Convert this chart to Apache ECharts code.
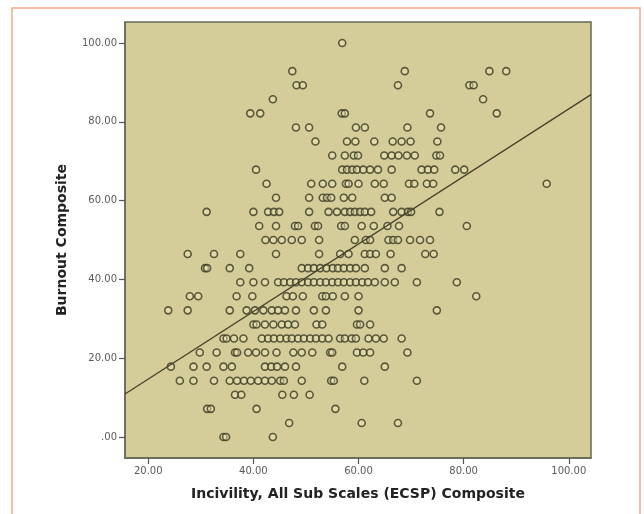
<!DOCTYPE html>
<html>
<head>
<meta charset="utf-8">
<script src="https://cdn.jsdelivr.net/npm/echarts@6/dist/echarts.min.js"></script>
<style>
  html, body { margin: 0; padding: 0; background: #ffffff; }
  #chart { width: 644px; height: 514px; }
</style>
</head>
<body>
<div id="chart"></div>
<script>
// Burnout composite levels (one row of respondents per level)
const burnoutLevels = [
  100.00, 92.86, 89.29, 85.71, 82.14, 78.57, 75.00, 71.43, 67.86, 64.29,
  60.71, 57.14, 53.57, 50.00, 46.43, 42.86, 39.29, 35.71, 32.14, 28.57,
  25.00, 21.43, 17.86, 14.29, 10.71, 7.14, 3.57, 0.00
];

// Incivility composite scores of the respondents at each burnout level
const incivilityAtLevel = [
  [56.9],
  [47.4, 68.8, 84.9, 88.1],
  [48.2, 49.4, 67.5, 81.1, 81.9],
  [43.7, 83.7],
  [39.4, 41.3, 56.8, 57.4, 73.6, 86.3],
  [48.1, 50.6, 59.5, 61.2, 69.3, 75.7],
  [51.8, 57.8, 59.4, 63.0, 66.5, 68.2, 69.9, 75.0],
  [55.0, 57.4, 59.1, 59.9, 64.9, 66.3, 67.6, 69.2, 70.7, 74.8, 75.5],
  [40.5, 56.9, 57.8, 58.8, 59.7, 60.9, 62.2, 63.7, 66.3, 72.0, 73.2, 74.4, 78.4, 80.1],
  [42.5, 51.0, 53.2, 55.0, 57.6, 58.1, 60.0, 63.1, 64.8, 69.6, 70.6, 73.0, 74.2, 95.8],
  [44.3, 50.6, 53.2, 54.0, 54.8, 57.2, 58.8, 65.0, 66.3],
  [31.1, 40.0, 42.8, 43.9, 44.9, 50.6, 54.3, 55.9, 57.4, 58.4, 59.3, 60.3, 61.2, 62.4, 66.6, 68.2, 69.4, 70.0, 75.4],
  [41.1, 44.3, 47.9, 48.5, 51.7, 52.3, 56.7, 57.4, 60.6, 62.9, 65.5, 67.7, 80.6],
  [42.3, 43.8, 45.4, 47.3, 49.2, 52.5, 59.3, 61.4, 62.2, 65.7, 66.6, 67.5, 69.8, 71.7, 73.6],
  [27.5, 32.5, 37.5, 44.3, 52.5, 56.5, 58.1, 61.2, 62.2, 63.3, 66.1, 72.7, 74.3],
  [30.8, 31.2, 35.5, 39.2, 49.2, 50.4, 51.5, 52.7, 53.9, 55.1, 56.1, 57.2, 58.4, 59.5, 61.2, 65.0, 68.2],
  [37.5, 40.0, 42.2, 44.7, 45.8, 47.0, 48.1, 49.2, 50.4, 51.5, 52.7, 53.8, 55.0, 56.1, 57.2, 58.4, 59.5, 60.7, 61.8, 63.1, 65.0, 66.9, 71.1, 78.7],
  [27.9, 29.5, 36.8, 39.8, 46.3, 47.5, 49.4, 53.1, 53.8, 55.1, 57.4, 60.0, 82.4],
  [23.8, 27.5, 35.5, 38.7, 40.3, 41.9, 43.5, 44.7, 46.0, 48.1, 51.5, 53.8, 60.0, 74.9],
  [40.0, 40.6, 42.2, 43.8, 45.4, 46.6, 47.9, 52.0, 53.1, 59.7, 60.3, 62.2],
  [34.3, 34.9, 36.3, 38.1, 41.6, 42.8, 43.9, 45.1, 46.3, 47.3, 48.5, 49.6, 50.8, 51.9, 53.1, 54.3, 56.5, 57.4, 58.7, 59.5, 61.9, 63.3, 64.8, 68.2],
  [29.8, 33.0, 36.5, 36.9, 39.0, 40.5, 42.2, 44.4, 47.6, 49.2, 51.2, 54.6, 55.0, 59.7, 60.9, 62.2, 69.3],
  [24.3, 28.6, 31.1, 34.3, 35.9, 42.2, 43.4, 44.5, 46.0, 48.1, 56.9, 65.0],
  [26.0, 28.6, 32.5, 35.5, 36.9, 38.2, 39.5, 40.9, 42.2, 43.5, 45.1, 45.8, 49.2, 54.8, 55.3, 61.1, 71.1],
  [36.5, 37.7, 45.5, 47.7, 50.7],
  [31.2, 31.9, 40.6, 55.6],
  [46.8, 60.6, 67.5],
  [34.3, 34.8, 43.7]
];

// Axis tick values
const xTickValues = [20, 40, 60, 80, 100];
const yTickValues = [0, 20, 40, 60, 80, 100];

// Linear fit: burnout = fitIntercept + fitSlope * incivility
const fitIntercept = -2.42;
const fitSlope = 0.857;

const xMin = 15.57, xMax = 104.23;
const yMin = -5.33, yMax = 105.33;

const points = [];
incivilityAtLevel.forEach((xs, i) => {
  xs.forEach(x => points.push([x, burnoutLevels[i]]));
});

const fitLine = [xMin, xMax].map(x => [x, fitIntercept + fitSlope * x]);

const fmt = v => (v === 0 ? '.00' : v.toFixed(2));

const chart = echarts.init(document.getElementById('chart'), null, { renderer: 'canvas' });

chart.setOption({
  animation: false,
  backgroundColor: '#ffffff',
  graphic: [{
    type: 'rect',
    shape: { x: 12, y: 8, width: 628, height: 530 },
    style: { fill: 'none', stroke: '#f3a987', lineWidth: 1.5 },
    z: 0
  }],
  grid: {
    left: 125, top: 22, width: 466, height: 436,
    show: true,
    backgroundColor: '#d4cd99',
    borderColor: '#646955',
    borderWidth: 1.5
  },
  xAxis: {
    type: 'value',
    min: xMin, max: xMax,
    name: 'Incivility, All Sub Scales (ECSP) Composite',
    nameLocation: 'middle',
    nameGap: 29,
    nameTextStyle: { fontFamily: 'DejaVu Sans', fontWeight: 'bold', fontSize: 14, color: '#222222' },
    axisLine: { show: true, onZero: false, lineStyle: { color: '#646955', width: 1.5 } },
    axisTick: { show: true, customValues: xTickValues, length: 6, lineStyle: { color: '#555555', width: 1.2 } },
    axisLabel: { customValues: xTickValues, formatter: fmt, margin: 8, fontFamily: 'DejaVu Sans', fontSize: 10, color: '#5a5a5a' },
    splitLine: { show: false }
  },
  yAxis: {
    type: 'value',
    min: yMin, max: yMax,
    name: 'Burnout Composite',
    nameLocation: 'middle',
    nameGap: 56,
    nameTextStyle: { fontFamily: 'DejaVu Sans', fontWeight: 'bold', fontSize: 14, color: '#222222' },
    axisLine: { show: true, onZero: false, lineStyle: { color: '#646955', width: 1.5 } },
    axisTick: { show: true, customValues: yTickValues, length: 6, lineStyle: { color: '#555555', width: 1.2 } },
    axisLabel: { customValues: yTickValues, formatter: fmt, margin: 8, fontFamily: 'DejaVu Sans', fontSize: 10, color: '#5a5a5a' },
    splitLine: { show: false }
  },
  series: [
    {
      type: 'scatter',
      data: points,
      symbol: 'circle',
      symbolSize: 7,
      itemStyle: { color: 'rgba(238,232,186,0.55)', borderColor: '#3b3820', borderWidth: 1.6 },
      z: 3
    },
    {
      type: 'line',
      data: fitLine,
      showSymbol: false,
      lineStyle: { color: '#45412a', width: 1.3 },
      z: 4
    }
  ]
});
</script>
</body>
</html>
